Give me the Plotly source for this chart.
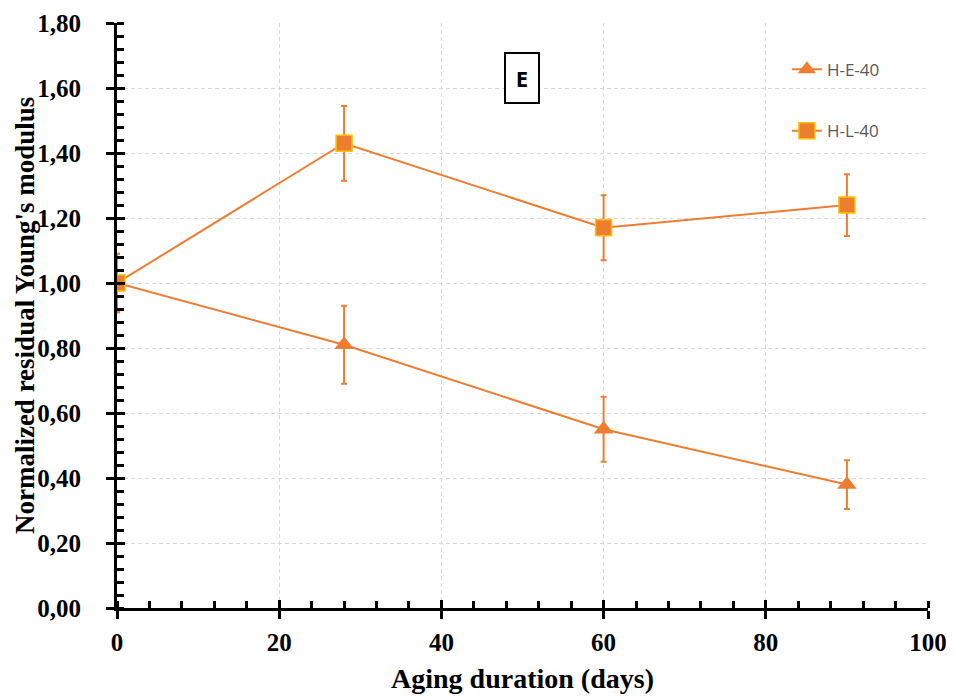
import plotly.graph_objects as go

days = [0, 28, 60, 90]
he40 = [1.00, 0.81, 0.55, 0.38]
he40_err = [0.09, 0.12, 0.10, 0.075]
hl40 = [1.00, 1.43, 1.17, 1.24]
hl40_err = [0.09, 0.115, 0.10, 0.095]
y_ticks = [0, 0.2, 0.4, 0.6, 0.8, 1.0, 1.2, 1.4, 1.6, 1.8]
y_labels = ["0,00", "0,20", "0,40", "0,60", "0,80", "1,00", "1,20", "1,40", "1,60", "1,80"]
x_ticks = [0, 20, 40, 60, 80, 100]

orange = "#ED7D31"
serif = "Liberation Serif"
grid = dict(showgrid=True, gridcolor="#D9D9D9", griddash="4px,3px", gridwidth=1, zeroline=False)

fig = go.Figure()
fig.add_trace(go.Scatter(
    x=days, y=he40, name="H-E-40", mode="lines+markers",
    line=dict(color=orange, width=2),
    marker=dict(symbol="triangle-up", size=17, color=orange),
    error_y=dict(type="data", array=he40_err, color=orange, thickness=2, width=3),
    legend="legend"))
fig.add_trace(go.Scatter(
    x=days, y=hl40, name="H-L-40", mode="lines+markers",
    line=dict(color=orange, width=2),
    marker=dict(symbol="square", size=16, color=orange, line=dict(color="#FFC000", width=1.5)),
    error_y=dict(type="data", array=hl40_err, color=orange, thickness=2, width=3),
    legend="legend2"))

legend_common = dict(bgcolor="rgba(0,0,0,0)", font=dict(family="Open Sans", size=17, color="#595959"),
                     xanchor="left", yanchor="middle", itemwidth=30)
fig.update_layout(
    width=946, height=690,
    margin=dict(l=109, r=26, t=15, b=90),
    paper_bgcolor="white", plot_bgcolor="white",
    showlegend=True,
    legend=dict(x=0.826, y=0.92, **legend_common),
    legend2=dict(x=0.826, y=0.815, **legend_common),
    xaxis=dict(range=[0, 100], tickvals=x_ticks, ticks="outside", ticklen=8, tickwidth=3, tickcolor="black",
               showline=True, linecolor="black", linewidth=3, automargin=False, ticklabelstandoff=2,
               tickfont=dict(family=serif, size=25, color="black", weight="bold"),
               minor=dict(dtick=4, ticks="inside", ticklen=7, tickwidth=2.5, tickcolor="black", showgrid=False),
               title=dict(text="Aging duration (days)", font=dict(family=serif, size=28, color="black", weight="bold"), standoff=14),
               **grid),
    yaxis=dict(range=[0, 1.8], tickvals=y_ticks, ticktext=y_labels, ticks="outside", ticklen=8, tickwidth=3, tickcolor="black",
               showline=True, linecolor="black", linewidth=3, automargin=False, ticklabelstandoff=20,
               tickfont=dict(family=serif, size=25, color="black", weight="bold"),
               minor=dict(dtick=0.04, ticks="inside", ticklen=7, tickwidth=2.5, tickcolor="black", showgrid=False),
               **grid),
    xaxis2=dict(overlaying="x", range=[0, 100], tickvals=x_ticks, ticks="inside", ticklen=8, tickwidth=3,
                tickcolor="black", showticklabels=False, showgrid=False, zeroline=False, showline=False, side="bottom", anchor="y"),
    yaxis2=dict(overlaying="y", range=[0, 1.8], tickvals=y_ticks, ticks="inside", ticklen=8, tickwidth=3,
                tickcolor="black", showticklabels=False, showgrid=False, zeroline=False, showline=False, side="left", anchor="x"),
    annotations=[
        dict(x=0.499, y=0.95, xref="paper", yref="paper", text="<b>E</b>", showarrow=False,
             font=dict(family="Open Sans", size=22, color="black"), width=30, height=46,
             bordercolor="black", borderwidth=2, borderpad=1, bgcolor="white"),
        dict(x=-92 / 811, y=0.499, xref="paper", yref="paper", text="Normalized residual Young's modulus",
             textangle=-90, showarrow=False, xanchor="center", yanchor="middle",
             font=dict(family=serif, size=27, color="black", weight="bold")),
    ],
)
fig.add_trace(go.Scatter(x=[0], y=[0], xaxis="x2", yaxis="y2", mode="markers",
                         marker=dict(opacity=0), showlegend=False, hoverinfo="skip"))
fig.write_html("out.html")
